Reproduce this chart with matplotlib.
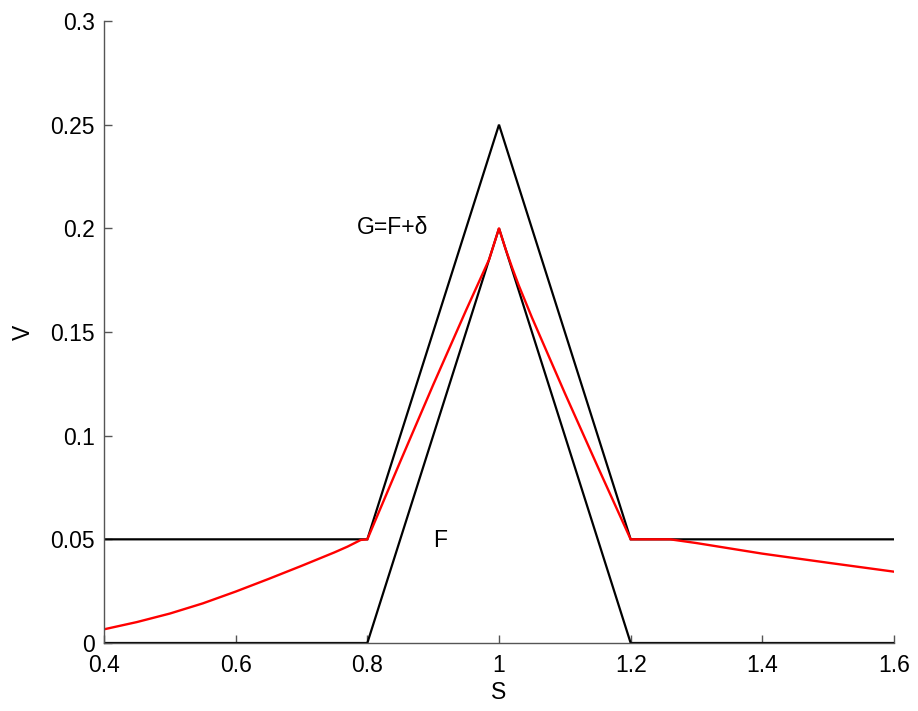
import matplotlib
matplotlib.use("Agg")
import matplotlib.pyplot as plt
from matplotlib.ticker import FixedLocator, FixedFormatter

# Data
s_g = [0.4, 0.8, 1.0, 1.2, 1.6]
v_g = [0.05, 0.05, 0.25, 0.05, 0.05]

s_f = [0.4, 0.8, 1.0, 1.2, 1.6]
v_f = [0.0, 0.0, 0.2, 0.0, 0.0]

s_v = [0.4, 0.45, 0.5, 0.55, 0.6, 0.65, 0.7, 0.75, 0.77, 0.79, 0.8,
       0.85, 0.9, 0.95, 0.985, 1.0, 1.01, 1.02, 1.03, 1.05, 1.1,
       1.15, 1.19, 1.2, 1.26, 1.3, 1.4, 1.5, 1.6]
v_v = [0.0066, 0.0101, 0.0142, 0.0191, 0.0248, 0.0309, 0.0372, 0.0437, 0.0465, 0.0497, 0.0500,
       0.0875, 0.1245, 0.1605, 0.1850, 0.2000, 0.1900, 0.1810, 0.1725, 0.1570, 0.1205,
       0.0850, 0.0570, 0.0500, 0.0500, 0.0482, 0.0431, 0.0387, 0.0344]

xticks = [0.4, 0.6, 0.8, 1.0, 1.2, 1.4, 1.6]
xticklabels = ["0.4", "0.6", "0.8", "1", "1.2", "1.4", "1.6"]
yticks = [0, 0.05, 0.1, 0.15, 0.2, 0.25, 0.3]
yticklabels = ["0", "0.05", "0.1", "0.15", "0.2", "0.25", "0.3"]

plt.rcParams['font.family'] = ['Liberation Sans', 'DejaVu Sans']

fig = plt.figure(figsize=(9.18, 7.11), dpi=100)
ax = fig.add_axes([104/918, (711-643)/711, 790/918, 622/711])

ax.plot(s_g, v_g, color='black', lw=1.6, solid_joinstyle='miter')
ax.plot(s_f, v_f, color='black', lw=1.6, solid_joinstyle='miter')
ax.plot(s_v, v_v, color='#ff0000', lw=1.7)

ax.text(0.784, 0.2005, "G=F+δ", fontsize=16.5, ha='left', va='center')
ax.text(0.9, 0.0495, "F", fontsize=16.5, ha='left', va='center')

ax.set_xlim(0.4, 1.6)
ax.set_ylim(0, 0.3)
ax.xaxis.set_major_locator(FixedLocator(xticks))
ax.xaxis.set_major_formatter(FixedFormatter(xticklabels))
ax.yaxis.set_major_locator(FixedLocator(yticks))
ax.yaxis.set_major_formatter(FixedFormatter(yticklabels))

for side in ['top', 'right']:
    ax.spines[side].set_visible(False)
for side in ['left', 'bottom']:
    ax.spines[side].set_color('#555555')
    ax.spines[side].set_linewidth(1.0)

ax.tick_params(direction='in', length=6, width=1.0, color='#555555',
               labelsize=16.5, labelcolor='black')
ax.tick_params(axis='x', pad=8)
ax.tick_params(axis='y', pad=6.5)

ax.set_xlabel("S", fontsize=16.5, labelpad=3)
ax.set_ylabel("V", fontsize=16.5, labelpad=11)

fig.savefig("out.png", dpi=100)
